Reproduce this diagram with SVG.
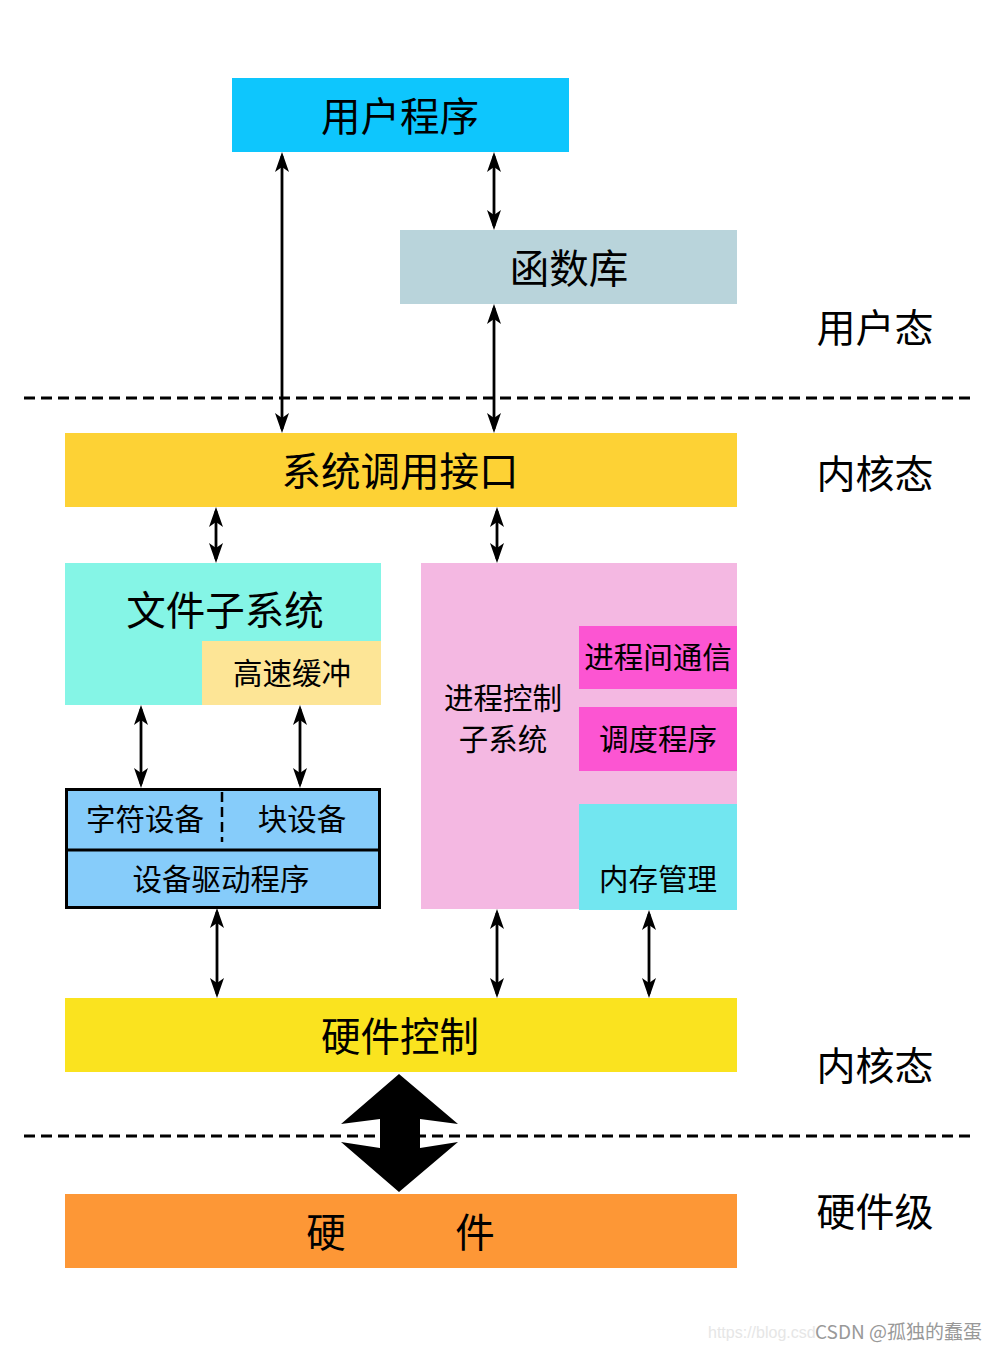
<svg xmlns="http://www.w3.org/2000/svg" width="1000" height="1350" viewBox="0 0 1000 1350">
<style>
text{font-family:"Noto Sans CJK SC","Noto Sans",sans-serif;fill:#000;text-anchor:middle;dominant-baseline:central}
.big{font-size:39.5px}
.mid{font-size:29.5px}
.side{font-size:39px}
.conn line{stroke:#000;stroke-width:2.8;marker-start:url(#ah);marker-end:url(#ah)}
.dash{stroke:#000;stroke-width:3;stroke-dasharray:11 6;fill:none}
</style>
<defs>
<marker id="ah" viewBox="-22 -9 24 18" refX="-4" refY="0" markerWidth="24" markerHeight="18" markerUnits="userSpaceOnUse" orient="auto-start-reverse">
<path d="M0,0 L-20,-7 L-15,0 L-20,7 Z" fill="#000"/>
</marker>
</defs>
<rect width="1000" height="1350" fill="#fff"/>

<line class="dash" x1="24" y1="398" x2="975" y2="398"/>
<line class="dash" x1="24" y1="1136" x2="975" y2="1136"/>

<g id="user-program"><rect x="232" y="78" width="337" height="74" fill="#0EC6FD"/><text class="big" x="400" y="113">用户程序</text></g>
<g id="func-lib"><rect x="400" y="230" width="337" height="74" fill="#B9D4DB"/><text class="big" x="569" y="265">函数库</text></g>
<g id="syscall"><rect x="65" y="433" width="672" height="74" fill="#FDD235"/><text class="big" x="400" y="468">系统调用接口</text></g>
<g id="file-sys"><rect x="65" y="563" width="316" height="142" fill="#85F5E6"/><text class="big" x="225" y="607">文件子系统</text></g>
<g id="cache"><rect x="202" y="641" width="179" height="64" fill="#FDE596"/><text class="mid" x="292" y="671">高速缓冲</text></g>
<g id="proc-ctrl"><rect x="421" y="563" width="316" height="346" fill="#F4B8E2"/><text class="mid" x="503" y="696">进程控制</text><text class="mid" x="503" y="737">子系统</text></g>
<g id="ipc"><rect x="579" y="626" width="158" height="63" fill="#FC55D2"/><text class="mid" x="658" y="655">进程间通信</text></g>
<g id="sched"><rect x="579" y="707" width="158" height="64" fill="#FC55D2"/><text class="mid" x="658" y="737">调度程序</text></g>
<g id="mem"><rect x="579" y="804" width="158" height="106" fill="#72E6F0"/><text class="mid" x="658" y="877">内存管理</text></g>
<g id="dev">
<rect x="66.5" y="789.5" width="313" height="118" fill="#86CCFA" stroke="#000" stroke-width="3"/>
<line x1="66.5" y1="850" x2="379.5" y2="850" stroke="#000" stroke-width="3"/>
<line x1="222" y1="792" x2="222" y2="842" stroke="#000" stroke-width="2.5" stroke-dasharray="10 5"/>
<text class="mid" x="145" y="817">字符设备</text>
<text class="mid" x="302" y="817">块设备</text>
<text class="mid" x="221" y="877">设备驱动程序</text>
</g>
<g id="hw-ctrl"><rect x="65" y="998" width="672" height="74" fill="#FAE31F"/><text class="big" x="400" y="1033">硬件控制</text></g>
<g id="hw"><rect x="65" y="1194" width="672" height="74" fill="#FD9736"/><text class="big" x="326" y="1229">硬</text><text class="big" x="475" y="1229">件</text></g>

<g id="labels">
<text class="side" x="875" y="325">用户态</text>
<text class="side" x="875" y="471">内核态</text>
<text class="side" x="875" y="1063">内核态</text>
<text class="side" x="875" y="1209">硬件级</text>
</g>

<g id="connectors" class="conn">
<line x1="282" y1="156" x2="282" y2="429"/>
<line x1="494" y1="156" x2="494" y2="226"/>
<line x1="494" y1="308" x2="494" y2="429"/>
<line x1="216" y1="511" x2="216" y2="559"/>
<line x1="497" y1="511" x2="497" y2="559"/>
<line x1="141" y1="709" x2="141" y2="784"/>
<line x1="300" y1="709" x2="300" y2="784"/>
<line x1="217" y1="912" x2="217" y2="994"/>
<line x1="497" y1="913" x2="497" y2="994"/>
<line x1="649" y1="914" x2="649" y2="994"/>
<polygon points="399,1074 458,1124 420,1119 420,1148 458,1142 399,1192 341,1142 380,1148 380,1119 341,1124" fill="#000"/>
</g>

<g id="watermark">
<text x="708" y="1332" style="font-family:'Liberation Sans',sans-serif;font-size:16px;fill:#e6e6e6;text-anchor:start">https://blog.csd</text>
<text x="815" y="1330" style="font-family:'Noto Sans CJK SC','Liberation Sans',sans-serif;font-size:19px;fill:#999;text-anchor:start">CSDN @孤独的蠢蛋</text>
</g>
</svg>
